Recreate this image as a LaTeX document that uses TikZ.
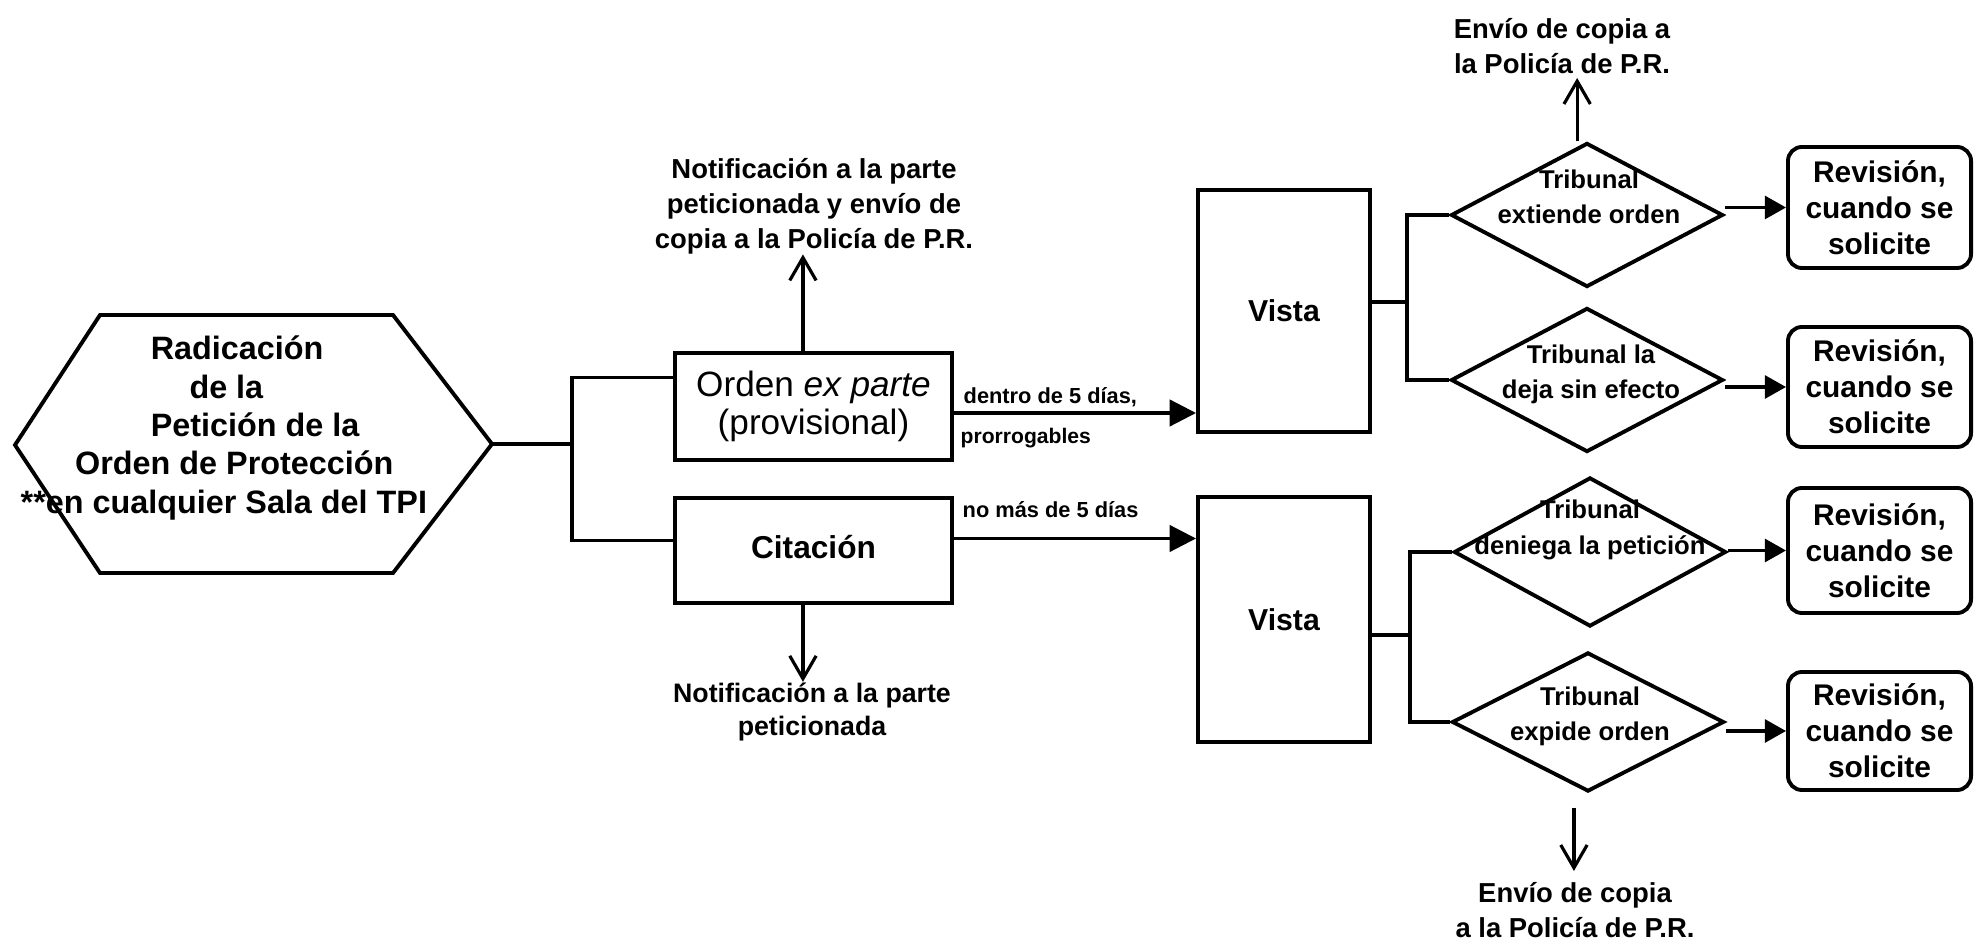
\documentclass[tikz,border=0pt]{standalone}
\usepackage{fontspec}
\setmainfont{Liberation Sans}
\usetikzlibrary{arrows.meta,shapes.geometric,calc}
\begin{document}
\begin{tikzpicture}[x=0.01cm,y=-0.01cm,
  box/.style={draw,line width=1.1pt,inner sep=0pt,align=center},
  diam/.style={draw,diamond,line width=1.1pt,inner sep=0pt,minimum width=2.72cm,minimum height=1.44cm},
  rbox/.style={draw,line width=1.1pt,rounded corners=4pt,inner sep=0pt,align=center,minimum width=1.83cm,font=\fontsize{8.5}{10.2}\selectfont\bfseries},
  txt/.style={inner sep=0pt,align=center},
  btxt/.style={txt,font=\fontsize{7.8}{9.9}\selectfont\bfseries},
  dtxt/.style={txt,font=\fontsize{7.3}{10}\selectfont\bfseries},
  small/.style={inner sep=0pt,anchor=west,font=\fontsize{6.2}{7}\selectfont\bfseries},
  conn/.style={line width=0.9pt},
  fillarrow/.style={conn,-{Triangle[length=7.5pt,width=7.5pt]}},
  fillarrowsmall/.style={conn,-{Triangle[length=6pt,width=6.5pt]}},
  openarrow/.style={conn,-{Straight Barb[length=6.5pt,width=7.5pt]}},
]
\useasboundingbox (0,0) rectangle (1975,940);

% hexagon
\draw[line width=1.1pt] (15,445) -- (100,315) -- (393,315) -- (492,444) -- (393,573) -- (100,573) -- cycle;
\coordinate (hexE) at (492,444);
\node[txt,anchor=west,align=left,font=\fontsize{9.2}{10.9}\selectfont\bfseries] (hext) at (20,428)
  {\hspace*{37pt}Radicación\\\hspace*{48pt}de la\\\hspace*{37pt}Petición de la\\\hspace*{15.5pt}Orden de Protección\\**en cualquier Sala del TPI};

% first column
\node[box,minimum width=2.77cm,minimum height=1.07cm,font=\fontsize{10}{11}\selectfont] (orden) at (813.5,406.5) {Orden \textit{ex parte}\\(provisional)};
\node[box,minimum width=2.77cm,minimum height=1.05cm,font=\fontsize{9}{11}\selectfont\bfseries] (cita) at (813.5,550.5) {\raisebox{2pt}{Citación}};

\coordinate (j1) at (572,444);
\coordinate (oW) at ($(orden.west)+(0,-29)$);
\coordinate (cW) at ($(cita.west)+(0,-10)$);
\draw[conn] (hexE) -- (j1);
\draw[conn] (oW) -| (j1) |- (cW);

\node[btxt] (n1) at (814,206) {Notificación a la parte\\peticionada y envío de\\copia a la Policía de P.R.};
\coordinate (oN) at ([xshift=-3pt]orden.north);
\draw[openarrow] (oN) -- (oN |- n1.south);

\node[btxt,font=\fontsize{7.6}{9.6}\selectfont\bfseries] (n2) at (812,712) {Notificación a la parte\\peticionada};
\coordinate (cS) at ([xshift=-3pt]cita.south);
\draw[openarrow] (cS) -- (cS |- n2.north);

% Vista boxes
\node[box,minimum width=1.72cm,minimum height=2.42cm,font=\fontsize{8.6}{10}\selectfont\bfseries] (v1) at (1284,311) {Vista};
\node[box,minimum width=1.72cm,minimum height=2.45cm,font=\fontsize{8.6}{10}\selectfont\bfseries] (v2) at (1284,619.5) {Vista};

\coordinate (oE) at ($(orden.east)+(0,6.5)$);
\draw[fillarrow] (oE) -- (oE -| v1.west);
\node[small] (l1) at (963,397) {dentro de 5 días,};
\node[small,font=\fontsize{6}{7}\selectfont\bfseries] (l2) at (960,438) {prorrogables};

\coordinate (cE) at ($(cita.east)+(0,-12)$);
\draw[fillarrow] (cE) -- (cE -| v2.west);
\node[small] (l3) at (962,510) {no más de 5 días};

% diamonds
\node[diam] (d1) at (1587,215) {};
\node[diam] (d2) at (1587,380) {};
\node[diam,minimum height=1.49cm] (d3) at (1590,552) {};
\node[diam,minimum height=1.39cm] (d4) at (1588,722) {};
\node[dtxt] (d1t) at (1589,197) {Tribunal\\extiende orden};
\node[dtxt] (d2t) at (1591,374) {Tribunal la\\deja sin efecto};
\node[dtxt] (d3t) at (1590,530) {Tribunal\\deniega la petición};
\node[dtxt] (d4t) at (1590,716) {Tribunal\\expide orden};

\coordinate (b1) at (1407,302);
\draw[conn] (v1.east |- b1) -- (b1);
\draw[conn] (d1.west) -| (b1) |- (d2.west);
\coordinate (b2) at (1410,635);
\draw[conn] (v2.east |- b2) -- (b2);
\draw[conn] (d3.west) -| (b2) |- (d4.west);

% Revision boxes
\node[rbox,minimum height=1.21cm] (r1) at (1879.5,207.5) {Revisión,\\cuando se\\solicite};
\node[rbox,minimum height=1.20cm] (r2) at (1879.5,387) {Revisión,\\cuando se\\solicite};
\node[rbox,minimum height=1.25cm] (r3) at (1879.5,550.5) {Revisión,\\cuando se\\solicite};
\node[rbox,minimum height=1.18cm] (r4) at (1879.5,731) {Revisión,\\cuando se\\solicite};

\draw[fillarrowsmall] (r1.west -| d1.east) -- (r1.west);
\draw[fillarrowsmall] (r2.west -| d2.east) -- (r2.west);
\draw[fillarrowsmall] (r3.west -| d3.east) -- (r3.west);
\draw[fillarrowsmall] (r4.west -| d4.east) -- (r4.west);

% copies to police
\node[txt,font=\fontsize{7.8}{10}\selectfont\bfseries] (e1) at (1562,46) {Envío de copia a\\la Policía de P.R.};
\coordinate (d1n) at ([xshift=-2.8pt]d1.north);
\draw[openarrow,shorten >=1pt] (d1n) -- (d1n |- e1.south);

\node[txt,font=\fontsize{7.8}{10}\selectfont\bfseries] (e2) at (1575,910) {Envío de copia\\a la Policía de P.R.};
\coordinate (d4s) at ([xshift=-4pt]d4.south);
\draw[openarrow,shorten <=4pt,shorten >=3pt] (d4s) -- (d4s |- e2.north);
\end{tikzpicture}
\end{document}
